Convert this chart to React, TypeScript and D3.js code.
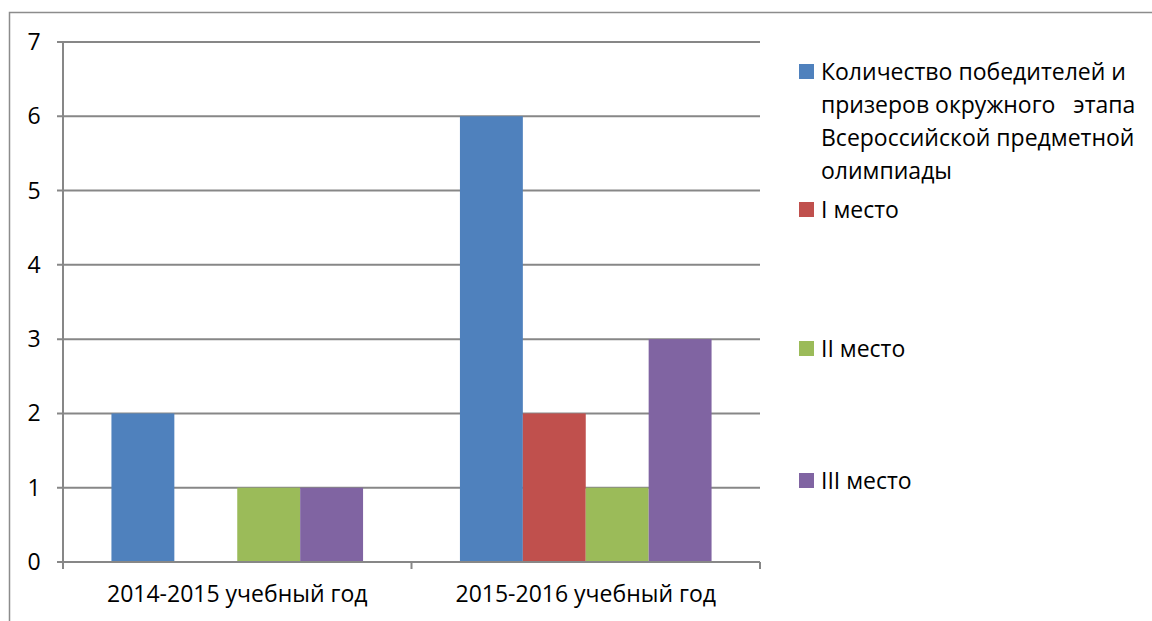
import React from "react";
import * as d3 from "d3";

const categories = ["2014-2015 учебный год", "2015-2016 учебный год"];
const seriesNames = [
  "Количество победителей и призеров окружного этапа Всероссийской предметной олимпиады",
  "I место",
  "II место",
  "III место",
];
const winners = [2, 6];
const place1 = [0, 2];
const place2 = [1, 1];
const place3 = [1, 3];
const colors = ["#4f81bd", "#c0504d", "#9bbb59", "#8064a2"];
const yTicks = [0, 1, 2, 3, 4, 5, 6, 7];

// legend text broken into lines as in the original
const legendLines = [
  ["Количество победителей и", "призеров окружного   этапа", "Всероссийской предметной", "олимпиады"],
  ["I место"],
  ["II место"],
  ["III место"],
];

const width = 1152;
const height = 621;
const margin = { top: 42, right: 392, bottom: 59, left: 63 };
const font = "'Open Sans', 'Noto Sans', sans-serif";
const fontSize = 23;

export default function App() {
  const series = [winners, place1, place2, place3];

  const x0 = d3.scaleBand()
    .domain(categories)
    .range([margin.left, width - margin.right])
    .paddingInner(0)
    .paddingOuter(0);

  const x1 = d3.scaleBand()
    .domain(seriesNames)
    .range([0, x0.bandwidth()])
    .paddingInner(0)
    .paddingOuter(0.77);

  const y = d3.scaleLinear()
    .domain([0, 7])
    .range([height - margin.bottom, margin.top]);

  const x0Ticks = [margin.left, ...categories.map((c) => (x0(c) as number) + x0.bandwidth())];
  const legendY = [72, 210, 349, 481];

  return (
    <svg width={width} height={height} style={{ position: "absolute", left: 0, top: 0, background: "#fff" }}>
      {/* chart frame */}
      <rect x={9.5} y={12.5} width={1160} height={640} fill="none" stroke="#8c8c8c" strokeWidth={1.5} />

      {/* gridlines */}
      {yTicks.map((t) => (
        <line key={t} x1={margin.left - 6} x2={width - margin.right} y1={y(t)} y2={y(t)} stroke="#878787" strokeWidth={2} />
      ))}

      {/* y axis */}
      <line x1={margin.left} x2={margin.left} y1={y(7)} y2={y(0) + 7} stroke="#878787" strokeWidth={2} />
      {yTicks.map((t) => (
        <text key={t} x={34} y={y(t)} dy="0.35em" textAnchor="middle" fontFamily={font} fontSize={fontSize} fill="#000">
          {t}
        </text>
      ))}

      {/* bars */}
      {categories.map((c, ci) => (
        <g key={c} transform={`translate(${x0(c)},0)`}>
          {series.map((s, si) =>
            s[ci] > 0 ? (
              <rect
                key={si}
                x={x1(seriesNames[si])}
                y={y(s[ci])}
                width={x1.bandwidth()}
                height={y(0) - y(s[ci])}
                fill={colors[si]}
              />
            ) : null
          )}
        </g>
      ))}

      {/* x axis */}
      <line x1={margin.left} x2={width - margin.right} y1={y(0)} y2={y(0)} stroke="#878787" strokeWidth={2} />
      {x0Ticks.map((tx, i) => (
        <line key={i} x1={tx} x2={tx} y1={y(0)} y2={y(0) + 7} stroke="#878787" strokeWidth={2} />
      ))}
      {categories.map((c) => (
        <text key={c} x={(x0(c) as number) + x0.bandwidth() / 2} y={602} textAnchor="middle" fontFamily={font} fontSize={fontSize} fill="#000">
          {c}
        </text>
      ))}

      {/* legend */}
      {legendLines.map((lines, i) => (
        <g key={i}>
          <rect x={799} y={legendY[i] - 8} width={15} height={15} fill={colors[i]} />
          {lines.map((l, j) => (
            <text key={j} x={821} y={legendY[i] + j * 33} dy="0.35em" fontFamily={font} fontSize={fontSize} fill="#000" style={{ whiteSpace: "pre" }}>
              {l}
            </text>
          ))}
        </g>
      ))}
    </svg>
  );
}
